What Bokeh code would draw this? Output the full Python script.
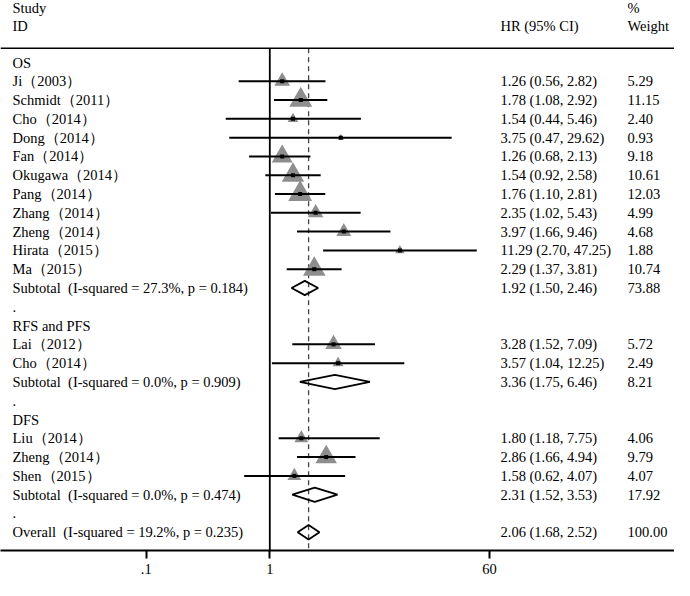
import numpy as np
from bokeh.plotting import figure
from bokeh.models import Range1d, LogScale, LogAxis, FixedTicker, Span, ColumnDataSource
from bokeh.core.properties import value
from bokeh.embed import file_html
from bokeh.resources import INLINE

# ---------------- data ----------------
group_names = ["OS", "RFS and PFS", "DFS"]

os_study = ["Ji（2003）", "Schmidt（2011）", "Cho（2014）", "Dong（2014）", "Fan（2014）",
            "Okugawa（2014）", "Pang（2014）", "Zhang（2014）", "Zheng（2014）",
            "Hirata（2015）", "Ma（2015）"]
os_hr = [1.26, 1.78, 1.54, 3.75, 1.26, 1.54, 1.76, 2.35, 3.97, 11.29, 2.29]
os_lo = [0.56, 1.08, 0.44, 0.47, 0.68, 0.92, 1.10, 1.02, 1.66, 2.70, 1.37]
os_hi = [2.82, 2.92, 5.46, 29.62, 2.13, 2.58, 2.81, 5.43, 9.46, 47.25, 3.81]
os_w = [5.29, 11.15, 2.40, 0.93, 9.18, 10.61, 12.03, 4.99, 4.68, 1.88, 10.74]

rfs_study = ["Lai（2012）", "Cho（2014）"]
rfs_hr = [3.28, 3.57]
rfs_lo = [1.52, 1.04]
rfs_hi = [7.09, 12.25]
rfs_w = [5.72, 2.49]

dfs_study = ["Liu（2014）", "Zheng（2014）", "Shen（2015）"]
dfs_hr = [1.80, 2.86, 1.58]
dfs_lo = [1.18, 1.66, 0.62]
dfs_hi = [7.75, 4.94, 4.07]
dfs_w = [4.06, 9.79, 4.07]

sub_i2 = ["27.3%", "0.0%", "0.0%"]
sub_p = ["0.184", "0.909", "0.474"]
sub_hr = [1.92, 3.36, 2.31]
sub_lo = [1.50, 1.75, 1.52]
sub_hi = [2.46, 6.46, 3.53]
sub_w = [73.88, 8.21, 17.92]

overall_i2 = "19.2%"
overall_p = "0.235"
overall_hr = 2.06
overall_lo = 1.68
overall_hi = 2.52
overall_w = 100.00

tick_values = [0.1, 1, 60]
tick_labels = [".1", "1", "60"]

# ---------------- build rows ----------------
groups = [
    (os_study, os_hr, os_lo, os_hi, os_w),
    (rfs_study, rfs_hr, rfs_lo, rfs_hi, rfs_w),
    (dfs_study, dfs_hr, dfs_lo, dfs_hi, dfs_w),
]

lab_y, lab_t = [], []
ci_y, ci_t, wt_t = [], [], []
st = dict(y=[], hr=[], lo=[], hi=[], w=[])
dm = dict(y=[], hr=[], lo=[], hi=[])

row = 0
for gi, (names, hr, lo, hi, w) in enumerate(groups):
    lab_y.append(row); lab_t.append(group_names[gi]); row += 1
    for n, h, l, u, ww in zip(names, hr, lo, hi, w):
        lab_y.append(row); lab_t.append(n)
        ci_y.append(row); ci_t.append(f"{h:.2f} ({l:.2f}, {u:.2f})"); wt_t.append(f"{ww:.2f}")
        st["y"].append(row); st["hr"].append(h); st["lo"].append(l); st["hi"].append(u); st["w"].append(ww)
        row += 1
    lab_y.append(row); lab_t.append(f"Subtotal\u00a0 (I-squared = {sub_i2[gi]}, p = {sub_p[gi]})")
    ci_y.append(row); ci_t.append(f"{sub_hr[gi]:.2f} ({sub_lo[gi]:.2f}, {sub_hi[gi]:.2f})")
    wt_t.append(f"{sub_w[gi]:.2f}")
    dm["y"].append(row); dm["hr"].append(sub_hr[gi]); dm["lo"].append(sub_lo[gi]); dm["hi"].append(sub_hi[gi])
    row += 1
    lab_y.append(row); lab_t.append("."); row += 1

lab_y.append(row); lab_t.append(f"Overall\u00a0 (I-squared = {overall_i2}, p = {overall_p})")
ci_y.append(row); ci_t.append(f"{overall_hr:.2f} ({overall_lo:.2f}, {overall_hi:.2f})")
wt_t.append(f"{overall_w:.2f}")
dm["y"].append(row); dm["hr"].append(overall_hr); dm["lo"].append(overall_lo); dm["hi"].append(overall_hi)

# ---------------- layout constants (pixels) ----------------
W, H = 674, 580
AXIS_H = 30
FRAME_H = H - AXIS_H
ROW0_PX = 62.0      # pixel y of first row
ROW_PX = 18.79      # pixel height of a row
X1_PX = 269.3       # pixel x of HR = 1
DEC_PX = 123.6      # pixels per decade

top_y = -ROW0_PX / ROW_PX
bot_y = (FRAME_H - ROW0_PX) / ROW_PX
header_line_y = (47.7 - ROW0_PX) / ROW_PX
hr_start = 10 ** (-X1_PX / DEC_PX)
hr_end = 10 ** ((W - X1_PX) / DEC_PX)

FONT = value("Liberation Serif")
FS = "14.5px"

p = figure(width=W, height=H, x_range=Range1d(0, W), y_range=Range1d(bot_y, top_y),
           output_backend="svg", toolbar_location=None, min_border=0,
           min_border_bottom=AXIS_H, x_axis_type=None, y_axis_type=None)
p.outline_line_color = None
p.background_fill_color = "white"
p.border_fill_color = "white"

p.extra_x_ranges = {"hr": Range1d(hr_start, hr_end)}
p.extra_x_scales = {"hr": LogScale()}

ax = LogAxis(x_range_name="hr", ticker=FixedTicker(ticks=tick_values),
             major_label_overrides={v: s for v, s in zip(tick_values, tick_labels)})
ax.axis_line_width = 2
ax.axis_line_color = "black"
ax.major_tick_out = 8
ax.major_tick_in = 0
ax.major_tick_line_width = 2
ax.major_tick_line_color = "black"
ax.minor_tick_line_color = None
ax.major_label_text_font = "Liberation Serif"
ax.major_label_text_font_size = FS
ax.major_label_text_color = "black"
ax.major_label_standoff = 5
p.add_layout(ax, "below")

# header line
p.add_layout(Span(location=header_line_y, dimension="width", line_color="black", line_width=1.5))

# reference lines
p.segment(x0=[1], y0=[header_line_y], x1=[1], y1=[bot_y], x_range_name="hr",
          line_color="black", line_width=1.8)
p.segment(x0=[overall_hr], y0=[header_line_y], x1=[overall_hr], y1=[bot_y], x_range_name="hr",
          line_color="#444444", line_width=1.3, line_dash="5 4")

# studies
src = ColumnDataSource(dict(y=st["y"], hr=st["hr"], lo=st["lo"], hi=st["hi"],
                            size=[6.89 * np.sqrt(w) for w in st["w"]]))
p.scatter(x="hr", y="y", size="size", marker="triangle", source=src, x_range_name="hr",
          fill_color="#8e8e8e", line_color=None)
p.segment(x0="lo", y0="y", x1="hi", y1="y", source=src, x_range_name="hr",
          line_color="black", line_width=2)
p.scatter(x="hr", y="y", size=4, marker="square", source=src, x_range_name="hr",
          fill_color="black", line_color=None)

# diamonds
hh = 0.38
xs = [[l, h, u, h] for l, h, u in zip(dm["lo"], dm["hr"], dm["hi"])]
ys = [[y, y - hh, y, y + hh] for y in dm["y"]]
p.patches(xs=xs, ys=ys, x_range_name="hr", fill_color=None, line_color="black", line_width=1.8)

# texts
tk = dict(text_font=FONT, text_font_size=FS, text_baseline="middle", text_align="left",
          text_color="black")
p.text(x=[12] * len(lab_y), y=lab_y, text=lab_t, **tk)
p.text(x=[500] * len(ci_y), y=ci_y, text=ci_t, **tk)
p.text(x=[627] * len(ci_y), y=ci_y, text=wt_t, **tk)
hdr_a = (7 - ROW0_PX) / ROW_PX
hdr_b = (25 - ROW0_PX) / ROW_PX
p.text(x=[12, 12, 500, 627, 627], y=[hdr_a, hdr_b, hdr_b, hdr_a, hdr_b],
       text=["Study", "ID", "HR (95% CI)", "%", "Weight"], **tk)

open("out.html", "w").write(file_html(p, INLINE))
